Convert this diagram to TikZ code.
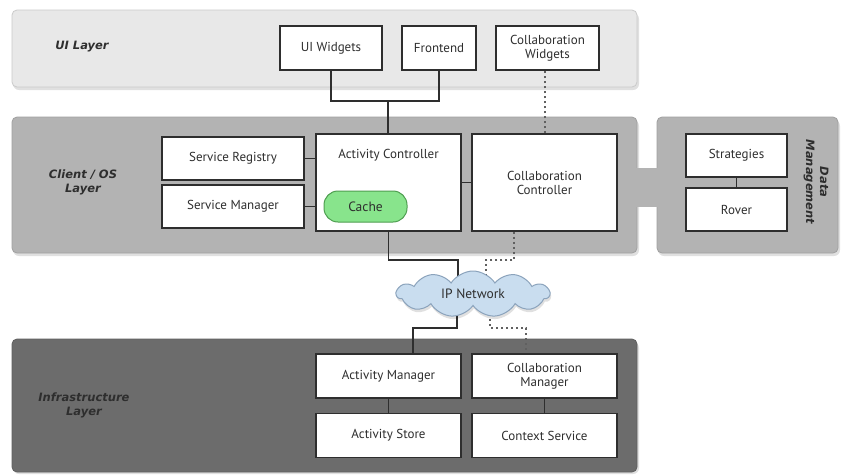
\documentclass[tikz,border=0pt]{standalone}
\usepackage{fontspec}
\setmainfont{PT Sans}
\newfontfamily\labelfont{DejaVu Sans}
\usetikzlibrary{shapes.symbols,calc}
\definecolor{uifill}{HTML}{E8E8E8}
\definecolor{uiedge}{HTML}{CACACA}
\definecolor{osfill}{HTML}{B3B3B3}
\definecolor{osedge}{HTML}{A0A0A0}
\definecolor{infill}{HTML}{6C6C6C}
\definecolor{inedge}{HTML}{5E5E5E}
\definecolor{ink}{HTML}{2E2E2E}
\definecolor{cachefill}{HTML}{88E48C}
\definecolor{cacheedge}{HTML}{4E9E50}
\definecolor{cloudfill}{HTML}{C9DDEF}
\definecolor{cloudedge}{HTML}{8BA3BC}
\pgfdeclarelayer{panels}
\pgfdeclarelayer{wires}
\pgfsetlayers{panels,wires,main}
\tikzset{
  panel/.style={rounded corners=5pt, line width=0.8pt},
  panelshadow/.style={rounded corners=6pt, fill=black, opacity=0.12},
  comp/.style={draw=ink, line width=1.5pt, fill=white, inner sep=2pt,
    font=\fontsize{13}{14}\selectfont, text=ink, align=center,
    minimum height=43pt},
  layertext/.style={font=\labelfont\fontsize{11.5}{14}\selectfont\bfseries\itshape, text=ink, align=center},
  wire/.style={draw=ink, line width=1.5pt},
  dotwire/.style={draw=gray!75!black, line width=2pt, dash pattern=on 2pt off 3pt}
}
\begin{document}
\begin{tikzpicture}[x=1pt,y=-1pt]
\useasboundingbox (0,0) rectangle (846,475);

% ---- layer panels with soft shadows ----
\begin{pgfonlayer}{panels}
  \fill[white] (0,0) rectangle (846,475);
  \fill[panelshadow] (13,13) rectangle (639,90);
  \fill[panelshadow] (13,120) rectangle (639,256);
  \fill[panelshadow] (658,120) rectangle (840,256);
  \fill[panelshadow] (13,342) rectangle (639,474);
  \draw[panel, fill=uifill, draw=uiedge] (12,10) rectangle (637,87);
  \draw[panel, fill=osfill, draw=osedge] (12,117) rectangle (637,253);
  \draw[panel, fill=osfill, draw=osedge] (657,117) rectangle (838,253);
  \fill[osfill] (636,168) rectangle (658,207);
  \draw[panel, fill=infill, draw=inedge] (12,339) rectangle (637,472);
\end{pgfonlayer}

% ---- layer titles ----
\node[layertext] (tui) at (82,47) {UI Layer};
\node[layertext] (tos) at (83,182) {Client / OS\\Layer};
\node[layertext] (tin) at (84,405) {Infrastructure\\Layer};
\node[layertext, rotate=-90] (tdm) at (816,182) {Data\\Management};

% ---- UI layer ----
\node[comp, minimum width=102pt, minimum height=44pt] (uiw) at (331,48) {UI Widgets};
\node[comp, minimum width=74pt, minimum height=44pt] (fe) at (439,48) {Frontend};
\node[comp, minimum width=103pt, minimum height=44pt] (cw) at (547.5,48) {Collaboration\\Widgets};

% ---- client / OS layer ----
\node[comp, minimum width=142pt] (sr) at (233,158.5) {Service Registry};
\node[comp, minimum width=142pt] (sm) at (233,206.5) {Service Manager};
\node[comp, minimum width=145pt, minimum height=97pt] (ac) at (388.5,182.5) {};
\node[font=\fontsize{13}{14}\selectfont, text=ink] (acl) at (388.5,155) {Activity Controller};
\node[draw=cacheedge, fill=cachefill, line width=1pt, rounded corners=14pt,
      minimum width=83pt, minimum height=31pt, text=ink,
      font=\fontsize{13.5}{14}\selectfont] (cache) at (365.5,206.5) {Cache};
\node[comp, minimum width=145pt, minimum height=97pt] (cc) at (544.5,182.5) {Collaboration\\Controller};

% ---- data management ----
\node[comp, minimum width=101pt] (st) at (736.5,155.5) {Strategies};
\node[comp, minimum width=101pt] (rv) at (736.5,209.5) {Rover};

% ---- network ----
\node[cloud, cloud puffs=11, cloud puff arc=115, cloud ignores aspect,
      minimum width=153pt, minimum height=46pt, inner sep=0pt,
      fill=black, opacity=0.12] (netshadow) at (474,297) {};
\node[cloud, cloud puffs=11, cloud puff arc=115, cloud ignores aspect,
      minimum width=153pt, minimum height=46pt, inner sep=0pt,
      draw=cloudedge, fill=cloudfill, line width=1pt, text=ink,
      font=\fontsize{13.5}{14}\selectfont] (net) at (473,294) {IP Network};

% ---- infrastructure layer ----
\node[comp, minimum width=145pt, minimum height=44pt] (am) at (388.5,376) {Activity Manager};
\node[comp, minimum width=145pt, minimum height=44pt] (as) at (388.5,435.5) {Activity Store};
\node[comp, minimum width=145pt, minimum height=44pt] (cm) at (544.5,376) {Collaboration\\Manager};
\node[comp, minimum width=145pt, minimum height=44pt] (cs) at (544.5,435.5) {Context Service};

% ---- connectors ----
\coordinate (j1) at (388,101);
\coordinate (j2) at (458,260);
\coordinate (d1) at (514,260);
\coordinate (d2) at (486,260);
\coordinate (j3) at (457,328);
\coordinate (j4) at (413,328);
\coordinate (d3) at (490,328);
\coordinate (d4) at (526,328);
\begin{pgfonlayer}{wires}
  \draw[wire] (uiw.south) |- (j1) -| (fe.south);
  \draw[wire] (j1) -- (j1 |- ac.north);
  \draw[dotwire] (cc.north) -- (cc.north |- cw.south);
  \draw[wire] (sr.east) -- (sr.east -| ac.west);
  \draw[wire] (sm.east) -- (sm.east -| ac.west);
  \draw[wire] (ac.east) -- (cc.west);
  \draw[wire] (st.south) -- (rv.north);
  \draw[wire] (ac.south) |- (j2) -- (j2 |- net.center);
  \draw[dotwire] (d1 |- cc.south) -- (d1) -- (d2) -- (d2 |- net.center);
  \draw[wire] (j3 |- net.center) -- (j3) -- (j4) -- (j4 |- am.north);
  \draw[dotwire] (d3 |- net.center) -- (d3) -- (d4) -- (d4 |- cm.north);
  \draw[wire] (am.south) -- (as.north);
  \draw[wire] (cm.south) -- (cs.north);
\end{pgfonlayer}
\end{tikzpicture}
\end{document}
